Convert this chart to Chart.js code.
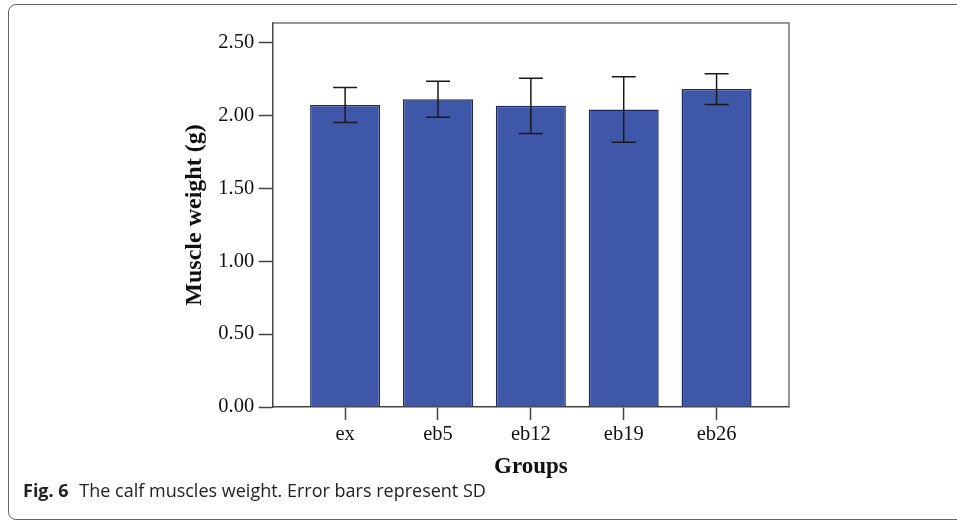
<!DOCTYPE html>
<html>
<head>
<meta charset="utf-8">
<script src="https://cdn.jsdelivr.net/npm/chart.js@4.4.1/dist/chart.umd.min.js"></script>
<style>
  html, body { margin: 0; padding: 0; background: #fff; }
  body { width: 957px; height: 522px; position: relative; overflow: hidden; }
  .frame {
    position: absolute; left: 8px; top: 4px; width: 1000px; height: 514px;
    border: 1.5px solid #666; border-radius: 8px;
  }
  #chart { position: absolute; left: 0; top: 0; }
  .caption {
    position: absolute; left: 23px; top: 478px;
    font-family: "Open Sans", "Noto Sans", sans-serif; font-size: 18px; color: #222;
    white-space: nowrap;
  }
  .caption b { font-weight: 700; margin-right: 6px; }
</style>
</head>
<body>
<div class="frame"></div>
<canvas id="chart" width="957" height="522"></canvas>
<div class="caption"><b>Fig. 6</b> The calf muscles weight. Error bars represent SD</div>

<script>
const groups = ['ex', 'eb5', 'eb12', 'eb19', 'eb26']
const meanWeight = [2.07, 2.11, 2.065, 2.04, 2.18]
const sdWeight = [0.12, 0.123, 0.19, 0.225, 0.105]
const yTicks = [0, 0.5, 1.0, 1.5, 2.0, 2.5]

const serif = '"Liberation Serif", "Times New Roman", serif'

// error bars drawn from the scales
const errorBars = {
  id: 'errorBars',
  afterDatasetsDraw(chart) {
    const { ctx, scales: { x, y } } = chart
    ctx.save()
    ctx.strokeStyle = '#1a1a1a'
    ctx.lineWidth = 1.5
    meanWeight.forEach((m, i) => {
      const px = x.getPixelForValue(i)
      const top = y.getPixelForValue(m + sdWeight[i])
      const bot = y.getPixelForValue(m - sdWeight[i])
      ctx.beginPath()
      ctx.moveTo(px, top); ctx.lineTo(px, bot)
      ctx.moveTo(px - 12, top); ctx.lineTo(px + 12, top)
      ctx.moveTo(px - 12, bot); ctx.lineTo(px + 12, bot)
      ctx.stroke()
    })
    ctx.restore()
  }
}

// top and right edge of the plot box
const boxEdges = {
  id: 'boxEdges',
  afterDraw(chart) {
    const { ctx, chartArea: a } = chart
    ctx.save()
    ctx.strokeStyle = '#777'
    ctx.lineWidth = 1.5
    ctx.beginPath()
    ctx.moveTo(a.left, a.top); ctx.lineTo(a.right, a.top); ctx.lineTo(a.right, a.bottom)
    ctx.stroke()
    ctx.restore()
  }
}

new Chart(document.getElementById('chart'), {
  type: 'bar',
  data: {
    datasets: [{
      data: meanWeight.map((v, i) => ({ x: i, y: v })),
      backgroundColor: '#3F57A8',
      borderColor: '#1E2A5C',
      borderWidth: 1.5,
      categoryPercentage: 1,
      barPercentage: 0.754,
    }],
  },
  options: {
    responsive: false,
    animation: false,
    layout: { padding: { left: 170, top: 23, right: 168, bottom: 41 } },
    plugins: { legend: { display: false }, tooltip: { enabled: false } },
    scales: {
      x: {
        type: 'linear',
        offset: false,
        min: -0.78,
        max: groups.length - 0.22,
        afterBuildTicks: s => { s.ticks = groups.map((g, i) => ({ value: i })) },
        afterFit: s => { s.height = 74 },
        ticks: {
          callback: v => groups[v],
          color: '#111',
          font: { family: serif, size: 20.5 },
          padding: 2.5,
          maxRotation: 0,
        },
        grid: { offset: false, drawOnChartArea: false, tickLength: 13, tickColor: '#444', tickWidth: 1.5 },
        border: { color: '#444', width: 1.5 },
        title: {
          display: true,
          text: 'Groups',
          color: '#111',
          font: { family: serif, size: 23, weight: 'bold' },
          padding: { top: 0, bottom: 0 },
        },
      },
      y: {
        min: 0,
        max: 2.633,
        afterBuildTicks: s => { s.ticks = yTicks.map(v => ({ value: v })) },
        afterFit: s => { s.width = 102.7 },
        ticks: {
          callback: v => v.toFixed(2),
          color: '#111',
          font: { family: serif, size: 20.5 },
          padding: 4.5,
        },
        grid: { drawOnChartArea: false, tickLength: 14, tickColor: '#444', tickWidth: 1.5 },
        border: { color: '#444', width: 1.5 },
        title: {
          display: true,
          text: 'Muscle weight (g)',
          color: '#111',
          font: { family: serif, size: 24, weight: 'bold' },
          padding: { top: 10.5, bottom: 0 },
        },
      },
    },
  },
  plugins: [errorBars, boxEdges],
})
</script>
</body>
</html>
